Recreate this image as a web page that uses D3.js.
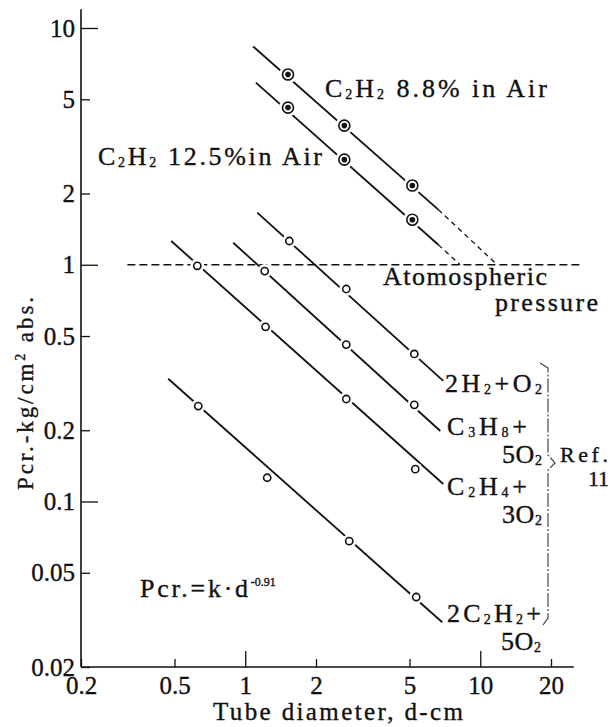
<!DOCTYPE html>
<html lang="en">
<head>
<meta charset="utf-8">
<title>Pcr vs tube diameter</title>
<script src="https://cdn.jsdelivr.net/npm/d3@7/dist/d3.min.js"></script>
<style>
  body { margin: 0; background: #fff; }
  svg text { font-family: "Liberation Serif", "Times New Roman", serif; fill: #111;
             stroke: #111; stroke-width: 0.35px; }
</style>
</head>
<body>
<script>
// tick labels
const xTicks = [0.2, 0.5, 1, 2, 5, 10, 20];
const yTicks = [10, 5, 2, 1, 0.5, 0.2, 0.1, 0.05, 0.02];

// measured points (tube diameter d in cm, Pcr in kg/cm2 abs.)
const dAir88 = [1.52, 2.64, 5.14];
const pAir88 = [6.36, 3.87, 2.16];
const dAir125 = [1.52, 2.64, 5.14];
const pAir125 = [4.61, 2.78, 1.55];
const dH2 = [1.54, 2.69, 5.24];
const pH2 = [1.26, 0.79, 0.42];
const dC3H8 = [1.21, 2.69, 5.24];
const pC3H8 = [0.94, 0.46, 0.256];
const dC2H4 = [0.625, 1.22, 2.69, 5.29];
const pC2H4 = [0.99, 0.547, 0.271, 0.137];
const dC2H2 = [0.631, 1.24, 2.77, 5.34];
const pC2H2 = [0.253, 0.126, 0.068, 0.0395];

// fitted straight lines: [d, p] at start and end, plus dashed extension
const lineAir88 = [[1.08, 8.35], [6.63, 1.71]];
const extAir88 = [[6.63, 1.71], [11.8, 1]];
const lineAir125 = [[1.11, 5.88], [6.63, 1.215]];
const extAir125 = [[6.63, 1.215], [8.2, 1]];
const lineH2 = [[1.125, 1.66], [6.96, 0.323]];
const lineC3H8 = [[0.889, 1.239], [6.76, 0.1986]];
const lineC2H4 = [[0.484, 1.26], [6.96, 0.1186]];
const lineC2H2 = [[0.47, 0.33], [6.89, 0.0309]];
const atmLine = [[0.315, 1], [26.6, 1]];

const W = 610, H = 727;
const FONT = "Liberation Serif";

const x = d3.scaleLog().domain([0.2, 20]).range([81, 551]);
const y = d3.scaleLog().domain([0.02, 10]).range([667, 28]);

const svg = d3.select("body").append("svg")
  .attr("width", W).attr("height", H)
  .attr("font-family", FONT);

const line = d3.line().x(d => x(d[0])).y(d => y(d[1]));

// axis lines, running a bit past the last tick as in the original
svg.append("line")
  .attr("x1", x(0.2)).attr("x2", x(0.2))
  .attr("y1", y(0.02)).attr("y2", y(12))
  .attr("stroke", "#111").attr("stroke-width", 1.6);
svg.append("line")
  .attr("x1", x(0.2)).attr("x2", x(25))
  .attr("y1", y(0.02)).attr("y2", y(0.02))
  .attr("stroke", "#111").attr("stroke-width", 1.6);

const fmt = d => String(d);
const major = v => Math.abs(Math.log10(v) - Math.round(Math.log10(v))) < 1e-6;

const yAxis = svg.append("g")
  .attr("transform", `translate(${x(0.2)},0)`)
  .call(d3.axisLeft(y).tickValues(yTicks).tickFormat(fmt)
    .tickSizeInner(-9).tickSizeOuter(0).tickPadding(6));
yAxis.attr("font-family", FONT);
yAxis.select(".domain").remove();
yAxis.selectAll("line").attr("x2", d => major(d) ? 17 : 9)
  .attr("stroke", "#111").attr("stroke-width", 1.3);
yAxis.selectAll("text").attr("font-size", 25).attr("fill", "#111");

const xAxis = svg.append("g")
  .attr("transform", `translate(0,${y(0.02)})`)
  .call(d3.axisBottom(x).tickValues(xTicks).tickFormat(fmt)
    .tickSizeInner(-8).tickSizeOuter(0).tickPadding(9));
xAxis.attr("font-family", FONT);
xAxis.select(".domain").remove();
xAxis.selectAll("line").attr("y2", d => major(d) ? -16 : -8)
  .attr("stroke", "#111").attr("stroke-width", 1.3);
xAxis.selectAll("text").attr("font-size", 25).attr("fill", "#111");

// axis titles
svg.append("text")
  .attr("x", 213).attr("y", 720)
  .attr("font-size", 25)
  .attr("textLength", 250).attr("lengthAdjust", "spacing")
  .text("Tube diameter, d-cm");

const yTitle = svg.append("text")
  .attr("transform", "translate(33,490) rotate(-90)")
  .attr("font-size", 23)
  .attr("textLength", 193).attr("lengthAdjust", "spacing");
yTitle.append("tspan").text("Pcr.-kg/cm");
yTitle.append("tspan").attr("font-size", 14).attr("dy", -8).text("2");
yTitle.append("tspan").attr("dy", 8).text(" abs.");

// atmospheric pressure dashed line
svg.append("path")
  .attr("d", line(atmLine))
  .attr("fill", "none").attr("stroke", "#111")
  .attr("stroke-width", 1.5).attr("stroke-dasharray", "8,4");

// series
const series = [
  { d: dAir88, p: pAir88, fit: lineAir88, ext: extAir88, mark: "dot" },
  { d: dAir125, p: pAir125, fit: lineAir125, ext: extAir125, mark: "dot" },
  { d: dH2, p: pH2, fit: lineH2, mark: "open" },
  { d: dC3H8, p: pC3H8, fit: lineC3H8, mark: "open" },
  { d: dC2H4, p: pC2H4, fit: lineC2H4, mark: "open" },
  { d: dC2H2, p: pC2H2, fit: lineC2H2, mark: "open" }
];

series.forEach(s => {
  svg.append("path").attr("d", line(s.fit))
    .attr("fill", "none").attr("stroke", "#111").attr("stroke-width", 1.8);
  if (s.ext) {
    svg.append("path").attr("d", line(s.ext))
      .attr("fill", "none").attr("stroke", "#111")
      .attr("stroke-width", 1.3).attr("stroke-dasharray", "5,4");
  }
  const pts = s.d.map((d, i) => [d, s.p[i]]);
  const g = svg.append("g");
  // white halo so the line breaks around each marker
  g.selectAll(".halo").data(pts).enter().append("circle")
    .attr("cx", d => x(d[0])).attr("cy", d => y(d[1]))
    .attr("r", s.mark === "dot" ? 9 : 7).attr("fill", "#fff");
  g.selectAll(".m").data(pts).enter().append("circle")
    .attr("cx", d => x(d[0])).attr("cy", d => y(d[1]))
    .attr("r", s.mark === "dot" ? 5.5 : 3.6)
    .attr("fill", "#fff").attr("stroke", "#111").attr("stroke-width", 1.6);
  if (s.mark === "dot") {
    g.selectAll(".c").data(pts).enter().append("circle")
      .attr("cx", d => x(d[0])).attr("cy", d => y(d[1]))
      .attr("r", 2.8).attr("fill", "#111");
  }
});

// formula text: "_n" becomes a subscript digit; width forced to the original
function chem(px, py, str, len, size) {
  const t = svg.append("text").attr("x", px).attr("y", py)
    .attr("font-size", size || 26);
  if (len) t.attr("textLength", len).attr("lengthAdjust", "spacing");
  const parts = str.split(/(_\d)/).filter(p => p.length);
  let low = false;
  parts.forEach(p => {
    if (p[0] === "_") {
      t.append("tspan").attr("font-size", 14).attr("dy", low ? 0 : 2).text(p[1]);
      low = true;
    } else {
      t.append("tspan").attr("dy", low ? -2 : 0).text(p);
      low = false;
    }
  });
  return t;
}

chem(325, 97, "C_2H_2 8.8%  in Air", 222);
chem(98, 165, "C_2H_2 12.5%in Air", 224);
chem(383, 285, "Atomospheric", 164);
chem(495, 311, "pressure", 103);

chem(445, 392, "2H_2+O_2", 97);
chem(447, 435, "C_3H_8+", 80);
chem(502, 463, "5O_2", 40);
chem(447, 495, "C_2H_4+", 80);
chem(502, 523, "3O_2", 40);
chem(447, 622, "2C_2H_2+", 94);
chem(501, 650, "5O_2", 40);

chem(560, 462, "Ref.", 48, 22);
chem(588, 486, "11", 21, 22);

// brace grouping the Ref. 11 curves
svg.append("path")
  .attr("d", "M540,363 L548,368 L548,455 L555,463 L548,470 L548,618 L543,625")
  .attr("fill", "none").attr("stroke", "#333").attr("stroke-width", 1.1)
  .attr("stroke-dasharray", "14,2,2,2");

// equation
const eq = svg.append("text").attr("x", 140).attr("y", 597)
  .attr("font-size", 26);
eq.append("tspan").attr("textLength", 108).attr("lengthAdjust", "spacing")
  .text("Pcr.=k·d");
eq.append("tspan").attr("font-size", 12).attr("dy", -11).text("-0.91");
</script>
</body>
</html>
